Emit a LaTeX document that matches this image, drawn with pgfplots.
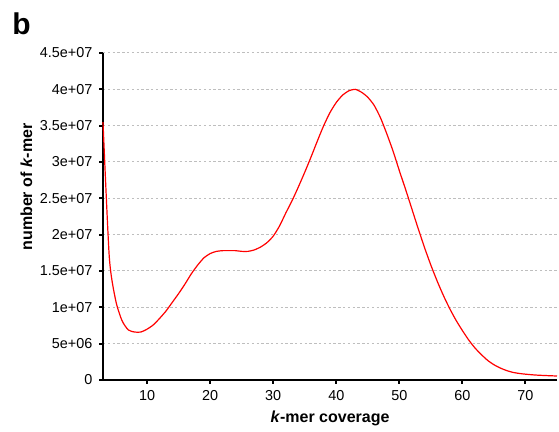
\documentclass[border=0pt]{standalone}
\usepackage{fontspec}
\setmainfont{Liberation Sans}
\usepackage{pgfplots}
\pgfplotsset{compat=1.18}
\definecolor{gridgray}{RGB}{190,190,190}
\definecolor{curvered}{RGB}{255,0,0}

\begin{document}
\begin{tikzpicture}
% fix the page to the reference proportions (1 px = 0.5 pt)
\path[use as bounding box] (-51.5pt,-26pt) rectangle (228pt,190pt);
\begin{axis}[
    at={(0,0)}, anchor=south west,
    scale only axis,
    width=227pt, height=163.5pt,
    axis lines=left,
    axis line style={-, line width=1.2pt, black},
    xmin=3, xmax=75,
    ymin=0, ymax=4.5e7,
    enlargelimits=false,
    xtick={10,20,30,40,50,60,70},
    ytick={0,5e6,1e7,1.5e7,2e7,2.5e7,3e7,3.5e7,4e7,4.5e7},
    yticklabels={0,5e+06,1e+07,1.5e+07,2e+07,2.5e+07,3e+07,3.5e+07,4e+07,4.5e+07},
    scaled y ticks=false,
    tick align=outside,
    major tick length=1.8pt,
    tick style={black, line width=1pt},
    /pgf/number format/assume math mode=true,
    tick label style={font=\fontsize{7.2}{8}\selectfont},
    ymajorgrids,
    grid style={gridgray, line width=0.5pt, dash pattern=on 1.2pt off 1.2pt},
    xlabel={\textit{k}-mer coverage},
    ylabel={number of \textit{k}-mer},
    every axis x label/.style={at={(axis description cs:0.5,-0.118)}, anchor=center,
        font=\fontsize{8}{9.6}\selectfont\bfseries},
    every axis y label/.style={at={(axis description cs:-0.1685,0.59)}, rotate=90, anchor=center,
        font=\fontsize{8}{9.6}\selectfont\bfseries},
    clip=false,
]
\addplot[color=curvered, line width=0.6pt, smooth, tension=0.4] coordinates {
    (3,3.55e7)(4,1.69e7)(5,1.10e7)(6,0.82e7)(7,0.69e7)(8,0.66e7)(9,0.66e7)(10,0.70e7)
    (11,0.76e7)(12,0.85e7)(13,0.95e7)(14,1.07e7)(15,1.19e7)(16,1.32e7)(17,1.46e7)(18,1.58e7)
    (19,1.68e7)(20,1.74e7)(21,1.77e7)(22,1.78e7)(23,1.78e7)(24,1.78e7)(25,1.77e7)(26,1.77e7)
    (27,1.79e7)(28,1.83e7)(29,1.89e7)(30,1.98e7)(31,2.12e7)(32,2.30e7)(33,2.47e7)(34,2.66e7)
    (35,2.86e7)(36,3.07e7)(37,3.29e7)(38,3.50e7)(39,3.68e7)(40,3.82e7)(41,3.92e7)(42,3.98e7)
    (43,4.00e7)(44,3.96e7)(45,3.89e7)(46,3.78e7)(47,3.61e7)(48,3.39e7)(49,3.15e7)(50,2.88e7)
    (51,2.62e7)(52,2.35e7)(53,2.08e7)(54,1.82e7)(55,1.58e7)(56,1.36e7)(57,1.16e7)(58,0.98e7)
    (59,0.82e7)(60,0.68e7)(61,0.55e7)(62,0.44e7)(63,0.35e7)(64,0.27e7)(65,0.21e7)(66,0.165e7)
    (67,0.13e7)(68,0.105e7)(69,0.09e7)(70,0.08e7)(71,0.072e7)(72,0.066e7)(73,0.062e7)
    (74,0.058e7)(75,0.055e7)
};
\end{axis}
\node[anchor=north west, inner sep=0pt, font=\fontsize{15}{18}\selectfont\bfseries] at (-45.5pt,184pt) {b};
\end{tikzpicture}
\end{document}
